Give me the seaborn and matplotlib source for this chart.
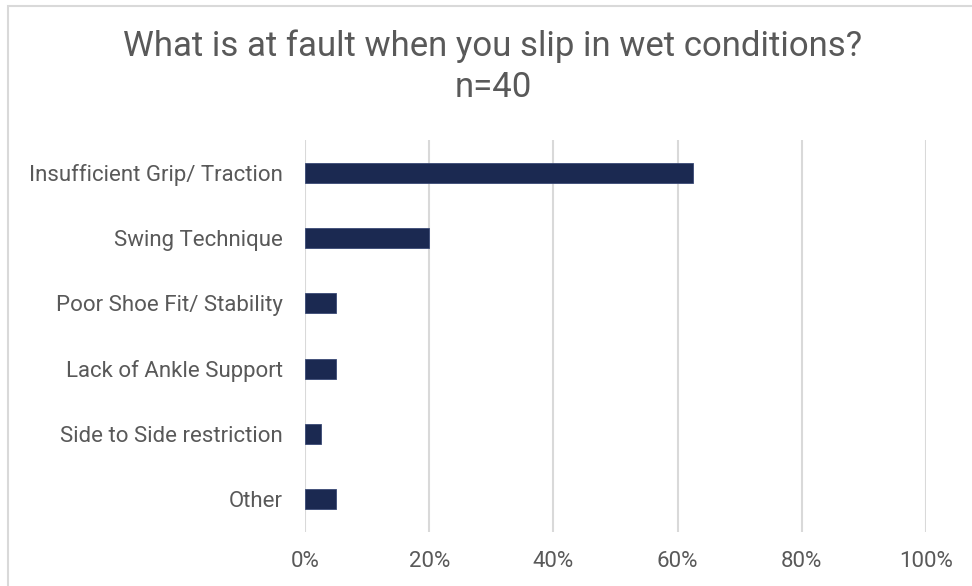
import matplotlib
matplotlib.use("Agg")
import matplotlib.pyplot as plt
import matplotlib.patches as mpatches
from matplotlib.ticker import FuncFormatter
import seaborn as sns
import pandas as pd

categories = [
    "Insufficient Grip/ Traction",
    "Swing Technique",
    "Poor Shoe Fit/ Stability",
    "Lack of Ankle Support",
    "Side to Side restriction",
    "Other",
]
shares = [0.625, 0.20, 0.05, 0.05, 0.025, 0.05]
x_ticks = [0, 0.2, 0.4, 0.6, 0.8, 1.0]
title_text = "What is at fault when you slip in wet conditions?\nn=40"

sns.set_theme(style="white")
plt.rcParams["font.family"] = ["Roboto", "DejaVu Sans"]

text_color = "#595959"
grid_color = "#d9d9d9"
bar_color = "#1b2951"

df = pd.DataFrame({"cause": categories, "share": shares})

fig = plt.figure(figsize=(9.72, 5.86), dpi=100)
ax = fig.add_axes([305 / 972, 1 - 532 / 586, (926 - 305) / 972, (532 - 140) / 586])

sns.barplot(data=df, x="share", y="cause", orient="h", color=bar_color,
            width=0.31, saturation=1, ax=ax, edgecolor="#3a4a75", linewidth=0.6)

ax.set_xlim(0, 1.0)
ax.set_ylim(5.5, -0.5)
ax.set_xticks(x_ticks)
ax.xaxis.set_major_formatter(FuncFormatter(lambda v, _: f"{v * 100:.0f}%"))
ax.grid(axis="x", color=grid_color, linewidth=1.5)
ax.set_axisbelow(True)
for s in ax.spines.values():
    s.set_visible(False)
ax.set_xlabel("")
ax.set_ylabel("")
ax.tick_params(axis="y", length=0, pad=16, labelsize=16, labelcolor=text_color)
ax.tick_params(axis="x", length=0, pad=14, labelsize=16, labelcolor=text_color)

fig.text(493 / 972, 1 - 67 / 586, title_text, ha="center", va="center",
         fontsize=25, color=text_color, linespacing=1.3)

# light frame around the chart area
frame = mpatches.Rectangle((8 / 972, -0.1), 1.2, 1 - 6 / 586 + 0.1,
                           transform=fig.transFigure, fill=False,
                           edgecolor=grid_color, linewidth=1.5, clip_on=False)
fig.patches.append(frame)

fig.savefig("out.png", dpi=100)
